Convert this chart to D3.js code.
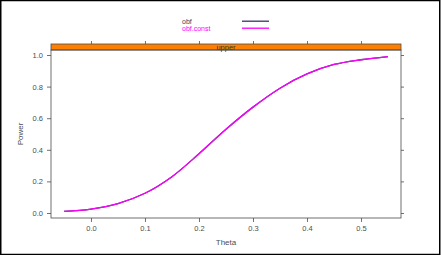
<!DOCTYPE html>
<html>
<head>
<meta charset="utf-8">
<script src="https://cdn.jsdelivr.net/npm/d3@7"></script>
<style>
  body { margin: 0; background: #fff; }
  text { font-family: "Liberation Sans", Arial, sans-serif; }
</style>
</head>
<body>
<div id="chart"></div>
<script>
// data
const theta = [-0.05, 0.0, 0.05, 0.1, 0.15, 0.2, 0.25, 0.3, 0.35, 0.4, 0.45, 0.5, 0.55];
const powerObf = [0.01, 0.025, 0.06, 0.125, 0.23, 0.375, 0.53, 0.67, 0.79, 0.88, 0.94, 0.97, 0.99];
const powerObfConst = [0.01, 0.025, 0.06, 0.125, 0.23, 0.375, 0.53, 0.67, 0.79, 0.88, 0.94, 0.97, 0.99];
const seriesNames = ["obf", "obf.const"];
const seriesColors = ["#333366", "#ff00ff"];
const xTicks = [0.0, 0.1, 0.2, 0.3, 0.4, 0.5];
const yTicks = [0.0, 0.2, 0.4, 0.6, 0.8, 1.0];
const stripLabel = "upper";

const width = 442, height = 255;
const panel = { left: 51, right: 401, top: 50, bottom: 218 };
const stripTop = 44;
const axisGrey = "#4d4d4d";

const svg = d3.select("#chart")
    .append("svg")
    .attr("width", width)
    .attr("height", height);

svg.append("rect")
    .attr("x", 0.75).attr("y", 0.5)
    .attr("width", 439).attr("height", 254)
    .attr("fill", "#fff")
    .attr("stroke", "#000")
    .attr("stroke-width", 1.5);

// scales (lattice pads 4% each side)
const xScale = d3.scaleLinear()
    .domain([-0.074, 0.574])
    .range([panel.left, panel.right]);

const yScale = d3.scaleLinear()
    .domain([0, 1])
    .range([213, 55]);

// strip
svg.append("rect")
    .attr("x", panel.left).attr("y", stripTop)
    .attr("width", panel.right - panel.left)
    .attr("height", panel.top - stripTop)
    .attr("fill", "#ff8000")
    .attr("stroke", axisGrey)
    .attr("stroke-width", 0.8);

svg.append("text")
    .attr("x", (panel.left + panel.right) / 2)
    .attr("y", 49.5)
    .attr("text-anchor", "middle")
    .attr("font-size", 7.5)
    .attr("fill", "#333")
    .text(stripLabel);

// panel border
svg.append("rect")
    .attr("x", panel.left).attr("y", panel.top)
    .attr("width", panel.right - panel.left)
    .attr("height", panel.bottom - panel.top)
    .attr("fill", "none")
    .attr("stroke", axisGrey)
    .attr("stroke-width", 0.8);

// axes
function styleAxis(g) {
    g.select(".domain").remove();
    g.selectAll("line").attr("stroke", axisGrey).attr("stroke-width", 0.8);
    g.selectAll("text")
        .attr("fill", axisGrey)
        .style("font-family", "Liberation Sans, Arial, sans-serif")
        .style("font-size", "7.5px");
}

svg.append("g")
    .attr("transform", `translate(0, ${panel.bottom})`)
    .call(d3.axisBottom(xScale).tickValues(xTicks).tickFormat(d3.format(".1f")).tickSize(4).tickPadding(4))
    .call(styleAxis);

svg.append("g")
    .attr("transform", `translate(0, ${stripTop})`)
    .call(d3.axisTop(xScale).tickValues(xTicks).tickFormat("").tickSize(3))
    .call(styleAxis);

svg.append("g")
    .attr("transform", `translate(${panel.left}, 0)`)
    .call(d3.axisLeft(yScale).tickValues(yTicks).tickFormat(d3.format(".1f")).tickSize(4).tickPadding(4))
    .call(styleAxis);

svg.append("g")
    .attr("transform", `translate(${panel.right}, 0)`)
    .call(d3.axisRight(yScale).tickValues(yTicks).tickFormat("").tickSize(3))
    .call(styleAxis);

// axis titles
svg.append("text")
    .attr("x", xScale(0.25))
    .attr("y", 245)
    .attr("text-anchor", "middle")
    .attr("font-size", 8)
    .attr("fill", axisGrey)
    .text("Theta");

svg.append("text")
    .attr("transform", `translate(23, ${yScale(0.5)}) rotate(-90)`)
    .attr("text-anchor", "middle")
    .attr("font-size", 8)
    .attr("fill", axisGrey)
    .text("Power");

// lines
const line = d3.line()
    .x((d, i) => xScale(theta[i]))
    .y(d => yScale(d))
    .curve(d3.curveCatmullRom);

[powerObf, powerObfConst].forEach((vals, k) => {
    svg.append("path")
        .datum(vals)
        .attr("d", line)
        .attr("fill", "none")
        .attr("stroke", seriesColors[k])
        .attr("stroke-width", 1.3);
});

// legend
seriesNames.forEach((name, k) => {
    const y = 21.5 + k * 7;
    svg.append("text")
        .attr("x", 182)
        .attr("y", y + 2.3)
        .attr("font-size", 7)
        .attr("fill", k === 0 ? "#3a3a5a" : seriesColors[k])
        .text(name);
    svg.append("line")
        .attr("x1", 242).attr("x2", 269)
        .attr("y1", y - 0.3).attr("y2", y - 0.3)
        .attr("stroke", seriesColors[k])
        .attr("stroke-width", 1.3);
});
</script>
</body>
</html>
